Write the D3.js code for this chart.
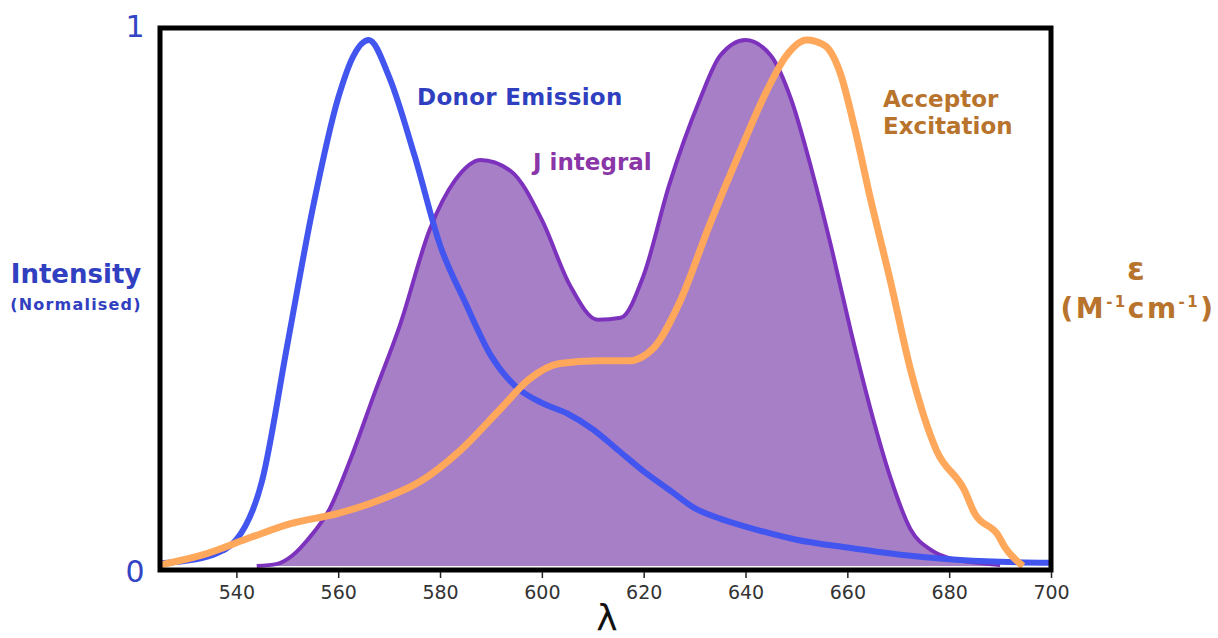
<!DOCTYPE html>
<html>
<head>
<meta charset="utf-8">
<script src="https://cdn.jsdelivr.net/npm/d3@7"></script>
<style>
  body { margin: 0; background: #fff; }
  svg { display: block; font-family: 'DejaVu Sans', Verdana, sans-serif; }
</style>
</head>
<body>
<div id="chart"></div>
<script>
// wavelength (nm) / normalised value pairs
const donorWl = [525, 530, 535, 540, 545, 550, 555, 560, 563, 566, 570, 575, 580, 585, 590, 595, 600, 605, 610, 615, 620, 625, 630, 635, 640, 650, 660, 670, 680, 690, 700]
const donorVal = [0.005, 0.01, 0.02, 0.05, 0.16, 0.42, 0.68, 0.89, 0.97, 1.0, 0.93, 0.78, 0.61, 0.5, 0.4, 0.34, 0.31, 0.29, 0.26, 0.22, 0.18, 0.145, 0.11, 0.09, 0.075, 0.05, 0.035, 0.022, 0.013, 0.008, 0.006]

const jWl = [544, 548, 551, 554, 558.4, 562.3, 567.2, 572.2, 578, 583, 588, 594, 600, 605.5, 611, 615.5, 620, 625, 631, 635, 640, 645, 649, 653, 657, 660.6, 664.5, 668.4, 672.4, 676.5, 680, 690]
const jVal = [0, 0.004, 0.02, 0.05, 0.11, 0.2, 0.33, 0.46, 0.64, 0.734, 0.772, 0.75, 0.658, 0.534, 0.468, 0.472, 0.553, 0.724, 0.886, 0.97, 1.0, 0.97, 0.886, 0.753, 0.6, 0.45, 0.3, 0.17, 0.07, 0.03, 0.015, 0.002]

const accWl = [525, 533, 543, 550.5, 560, 568, 576, 584, 592, 597.5, 603.5, 611, 617, 622, 627, 633, 639, 644, 648, 652, 655.5, 658.5, 661.5, 664.5, 668.5, 672.5, 677.5, 683, 685, 689.5, 691, 694.5]
const accVal = [0.002, 0.02, 0.055, 0.08, 0.1, 0.125, 0.16, 0.22, 0.3, 0.355, 0.385, 0.39, 0.39, 0.415, 0.5, 0.65, 0.79, 0.9, 0.97, 1.0, 0.99, 0.94, 0.83, 0.7, 0.54, 0.37, 0.22, 0.144, 0.1, 0.06, 0.035, 0]

const xTicks = [540, 560, 580, 600, 620, 640, 660, 680, 700]

const zip = (a, b) => a.map((w, i) => ({ w, v: b[i] }))
const donor = zip(donorWl, donorVal)
const jint = zip(jWl, jVal)
const acc = zip(accWl, accVal)

const W = 1218
const H = 638
const frame = { left: 160, right: 1051, top: 28, bottom: 570 }

const svg = d3.select('#chart').append('svg')
  .attr('width', W)
  .attr('height', H)

const x = d3.scaleLinear()
  .domain([525, 700])
  .range([frame.left, frame.right])

const y = d3.scaleLinear()
  .domain([0, 1])
  .range([566, 40])

const line = d3.line()
  .x(d => x(d.w))
  .y(d => y(d.v))
  .curve(d3.curveMonotoneX)

const area = d3.area()
  .x(d => x(d.w))
  .y0(y(0))
  .y1(d => y(d.v))
  .curve(d3.curveMonotoneX)

svg.append('clipPath').attr('id', 'clip')
  .append('rect')
  .attr('x', frame.left)
  .attr('y', frame.top)
  .attr('width', frame.right - frame.left)
  .attr('height', frame.bottom - frame.top)

const plot = svg.append('g').attr('clip-path', 'url(#clip)')

// J integral
plot.append('path')
  .datum(jint)
  .attr('d', area)
  .attr('fill', '#a77fc6')
plot.append('path')
  .datum(jint)
  .attr('d', line)
  .attr('fill', 'none')
  .attr('stroke', '#7d32bd')
  .attr('stroke-width', 4)

// donor emission
plot.append('path')
  .datum(donor)
  .attr('d', line)
  .attr('fill', 'none')
  .attr('stroke', '#4255ef')
  .attr('stroke-width', 6)

// acceptor excitation
plot.append('path')
  .datum(acc)
  .attr('d', line)
  .attr('fill', 'none')
  .attr('stroke', '#ffa75a')
  .attr('stroke-width', 7)
  .attr('stroke-linejoin', 'round')

// frame
svg.append('rect')
  .attr('x', frame.left)
  .attr('y', frame.top)
  .attr('width', frame.right - frame.left)
  .attr('height', frame.bottom - frame.top)
  .attr('fill', 'none')
  .attr('stroke', '#000')
  .attr('stroke-width', 5)

// x axis
const xAxis = svg.append('g')
  .attr('transform', `translate(0, ${frame.bottom + 2})`)
  .call(d3.axisBottom(x).tickValues(xTicks).tickSize(6).tickPadding(8))
xAxis.select('.domain').remove()
xAxis.selectAll('line').attr('stroke', '#222').attr('stroke-width', 1.5)
xAxis.selectAll('text')
  .attr('font-family', "'DejaVu Sans', Verdana, sans-serif")
  .attr('font-size', 19)
  .attr('fill', '#333')

// y end labels
svg.append('text')
  .attr('x', 135).attr('y', 37)
  .attr('text-anchor', 'middle')
  .attr('font-size', 30)
  .attr('fill', '#3344c4')
  .text('1')
svg.append('text')
  .attr('x', 135).attr('y', 582)
  .attr('text-anchor', 'middle')
  .attr('font-size', 30)
  .attr('fill', '#3344c4')
  .text('0')

// axis titles
svg.append('text')
  .attr('x', 76).attr('y', 283)
  .attr('text-anchor', 'middle')
  .attr('font-size', 26)
  .attr('font-weight', 'bold')
  .attr('fill', '#3040c0')
  .text('Intensity')
svg.append('text')
  .attr('x', 76).attr('y', 310)
  .attr('text-anchor', 'middle')
  .attr('font-size', 16)
  .attr('font-weight', 'bold')
  .attr('letter-spacing', 1.2)
  .attr('fill', '#3040c0')
  .text('(Normalised)')

svg.append('text')
  .attr('x', 1136).attr('y', 280)
  .attr('text-anchor', 'middle')
  .attr('font-size', 32)
  .attr('font-weight', 'bold')
  .attr('fill', '#b8732c')
  .text('ε')
const unit = svg.append('text')
  .attr('x', 1138).attr('y', 318)
  .attr('text-anchor', 'middle')
  .attr('font-size', 28)
  .attr('font-weight', 'bold')
  .attr('letter-spacing', 2.5)
  .attr('fill', '#b8732c')
unit.append('tspan').text('(M')
unit.append('tspan').attr('font-size', 15).attr('dy', -11).text('-1')
unit.append('tspan').attr('dy', 11).text('cm')
unit.append('tspan').attr('font-size', 15).attr('dy', -11).text('-1')
unit.append('tspan').attr('dy', 11).text(')')

svg.append('text')
  .attr('x', 607).attr('y', 630)
  .attr('text-anchor', 'middle')
  .attr('font-size', 36)
  .attr('fill', '#111')
  .text('λ')

// series labels
svg.append('text')
  .attr('x', 417).attr('y', 105)
  .attr('font-size', 23)
  .attr('font-weight', 'bold')
  .attr('letter-spacing', 0.3)
  .attr('fill', '#2f3fc0')
  .text('Donor Emission')
svg.append('text')
  .attr('x', 533).attr('y', 170)
  .attr('font-size', 23)
  .attr('font-weight', 'bold')
  .attr('fill', '#8a36a8')
  .text('J integral')
svg.append('text')
  .attr('x', 883).attr('y', 107)
  .attr('font-size', 23)
  .attr('font-weight', 'bold')
  .attr('fill', '#b8732c')
  .text('Acceptor')
svg.append('text')
  .attr('x', 883).attr('y', 134)
  .attr('font-size', 23)
  .attr('font-weight', 'bold')
  .attr('fill', '#b8732c')
  .text('Excitation')
</script>
</body>
</html>
